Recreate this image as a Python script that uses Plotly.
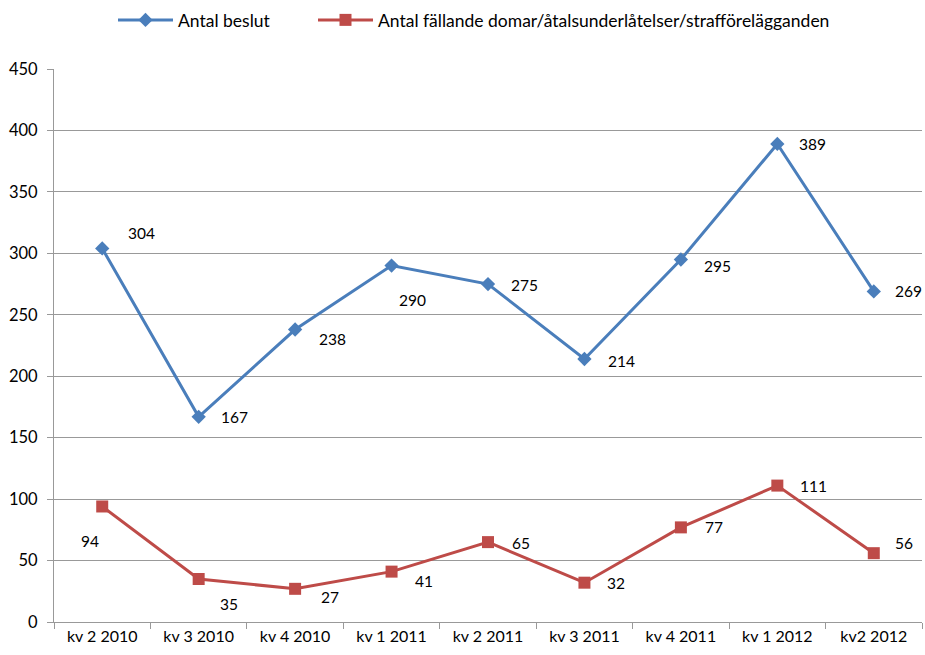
import plotly.graph_objects as go

categories = ["kv 2 2010", "kv 3 2010", "kv 4 2010", "kv 1 2011", "kv 2 2011",
              "kv 3 2011", "kv 4 2011", "kv 1 2012", "kv2 2012"]
beslut = [304, 167, 238, 290, 275, 214, 295, 389, 269]
fallande = [94, 35, 27, 41, 65, 32, 77, 111, 56]
y_ticks = [0, 50, 100, 150, 200, 250, 300, 350, 400, 450]

# label offsets in pixels (style only)
beslut_off = [(39, -15), (36, 0), (37, 9), (21, 34), (36, 1), (37, 2), (37, 7), (35, 0), (35, 0)]
fallande_off = [(-12, 35), (30, 25), (35, 8), (32, 9), (33, 1), (32, 0), (33, 0), (36, 0), (30, -10)]

BLUE = "#4A7EBB"
RED = "#BE4B48"
FONT = "Lato"

fig = go.Figure()
fig.add_trace(go.Scatter(
    x=categories, y=beslut, name="Antal beslut", mode="lines+markers",
    line=dict(color=BLUE, width=3),
    marker=dict(symbol="diamond", size=11, color=BLUE),
    legend="legend",
))
fig.add_trace(go.Scatter(
    x=categories, y=fallande, name="Antal fällande domar/åtalsunderlåtelser/strafförelägganden",
    mode="lines+markers",
    line=dict(color=RED, width=3),
    marker=dict(symbol="square", size=12, color=RED),
    legend="legend2",
))

annotations = []
for series, offs in ((beslut, beslut_off), (fallande, fallande_off)):
    for c, v, (dx, dy) in zip(categories, series, offs):
        annotations.append(dict(
            x=c, y=v, text=str(v), showarrow=False,
            xshift=dx, yshift=-dy,
            font=dict(family=FONT, size=15.5, color="#000000"),
        ))

legend_common = dict(orientation="h", xref="container", yref="container",
                     xanchor="left", y=1 - 20 / 655, yanchor="middle",
                     font=dict(family=FONT, size=17.5, color="#000000"),
                     itemwidth=55, bgcolor="rgba(0,0,0,0)")

fig.update_layout(
    width=925, height=655,
    margin=dict(l=54, r=3, t=69, b=33, autoexpand=False),
    paper_bgcolor="white", plot_bgcolor="white",
    font=dict(family=FONT, size=15, color="#000000"),
    showlegend=True,
    legend=dict(x=(118 - 5) / 925, **legend_common),
    legend2=dict(x=(318 - 5) / 925, **legend_common),
    annotations=annotations,
)
fig.update_xaxes(
    type="category", range=[-0.5, 8.5], automargin=False,
    showline=True, linecolor="#999999", linewidth=1,
    ticks="outside", ticklen=6, tickcolor="#999999", tickson="boundaries",
    showgrid=False, tickfont=dict(family=FONT, size=16),
)
fig.update_yaxes(
    range=[0, 450], tickvals=y_ticks, ticktext=[str(t) for t in y_ticks],
    automargin=False,
    showline=True, linecolor="#999999", linewidth=1,
    ticks="outside", ticklen=6, tickcolor="#999999",
    showgrid=True, gridcolor="#999999", gridwidth=1,
    zeroline=False, tickfont=dict(family=FONT, size=16.5),
    ticklabelstandoff=6,
)
fig.write_html("out.html", config={"displayModeBar": False},
               post_script="document.body.style.margin='0';")
